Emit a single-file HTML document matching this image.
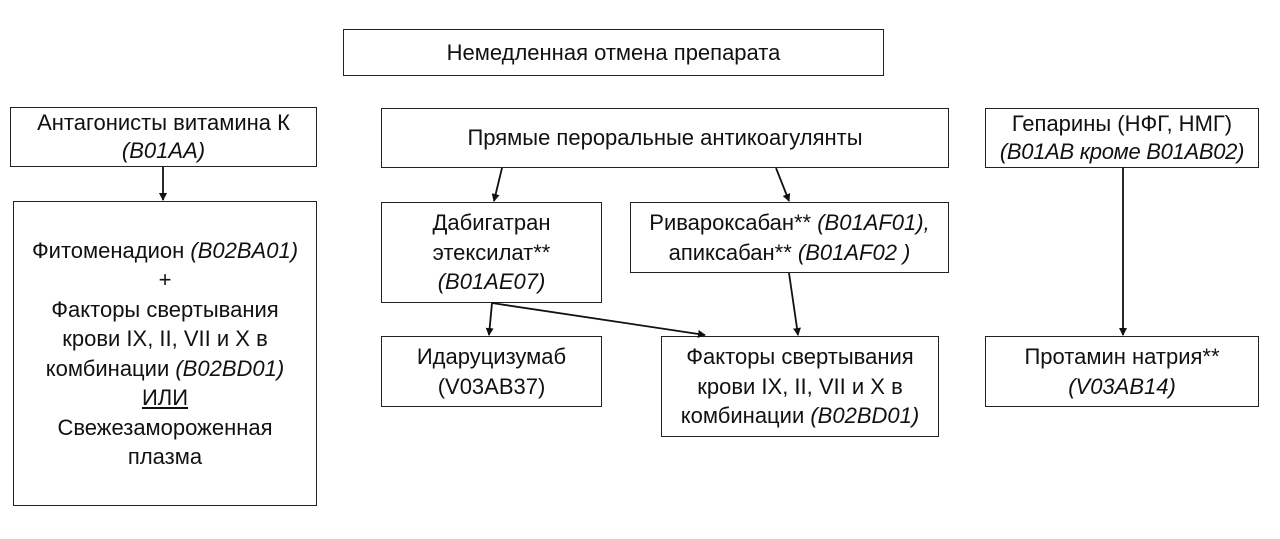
<!DOCTYPE html>
<html><head><meta charset="utf-8"><style>
body{margin:0;width:1280px;height:539px;background:#fff;position:relative;overflow:hidden;font-family:"Liberation Sans","DejaVu Sans",sans-serif;}
.b{position:absolute;border:1.5px solid #222;box-sizing:border-box;display:flex;justify-content:center;align-items:center;text-align:center;font-size:22px;line-height:29.5px;color:#111;}
.b>div{width:100%}
i{font-style:italic}
svg{position:absolute;left:0;top:0}
</style></head><body>
<div class="b" style="left:343px;top:29px;width:541px;height:47px"><div>Немедленная отмена препарата</div></div>
<div class="b" style="left:10px;top:107px;width:307px;height:60px;line-height:28px"><div>Антагонисты витамина К<br><i>(B01AA)</i></div></div>
<div class="b" style="left:13px;top:201px;width:304px;height:305px"><div>Фитоменадион <i>(B02BA01)</i><br>+<br>Факторы свертывания<br>крови IX, II, VII и X в<br>комбинации <i>(B02BD01)</i><br><u>ИЛИ</u><br>Свежезамороженная<br>плазма</div></div>
<div class="b" style="left:381px;top:108px;width:568px;height:60px"><div>Прямые пероральные антикоагулянты</div></div>
<div class="b" style="left:381px;top:202px;width:221px;height:101px"><div>Дабигатран<br>этексилат**<br><i>(B01AE07)</i></div></div>
<div class="b" style="left:630px;top:202px;width:319px;height:71px"><div>Ривароксабан** <i>(B01AF01),</i><br>апиксабан** <i>(B01AF02 )</i></div></div>
<div class="b" style="left:381px;top:336px;width:221px;height:71px"><div>Идаруцизумаб<br>(V03AB37)</div></div>
<div class="b" style="left:661px;top:336px;width:278px;height:101px"><div>Факторы свертывания<br>крови IX, II, VII и X в<br>комбинации <i>(B02BD01)</i></div></div>
<div class="b" style="left:985px;top:108px;width:274px;height:60px;line-height:28px"><div>Гепарины (НФГ, НМГ)<br><i style="letter-spacing:-0.3px">(B01AB кроме B01AB02)</i></div></div>
<div class="b" style="left:985px;top:336px;width:274px;height:71px"><div>Протамин натрия**<br><i>(V03AB14)</i></div></div>
<svg width="1280" height="539">
<defs><marker id="a" markerWidth="8" markerHeight="8" refX="7" refY="4" orient="auto" markerUnits="userSpaceOnUse"><path d="M0,0 L8,4 L0,8 z" fill="#111"/></marker></defs>
<g stroke="#111" stroke-width="1.8" fill="none" marker-end="url(#a)">
<line x1="163" y1="167" x2="163" y2="200"/>
<line x1="502" y1="168" x2="494" y2="201"/>
<line x1="776" y1="168" x2="789" y2="201"/>
<line x1="789" y1="273" x2="798" y2="335"/>
<line x1="492" y1="303" x2="489" y2="335"/>
<line x1="492" y1="303" x2="705" y2="335"/>
<line x1="1123" y1="167" x2="1123" y2="335"/>
</g></svg>
</body></html>
